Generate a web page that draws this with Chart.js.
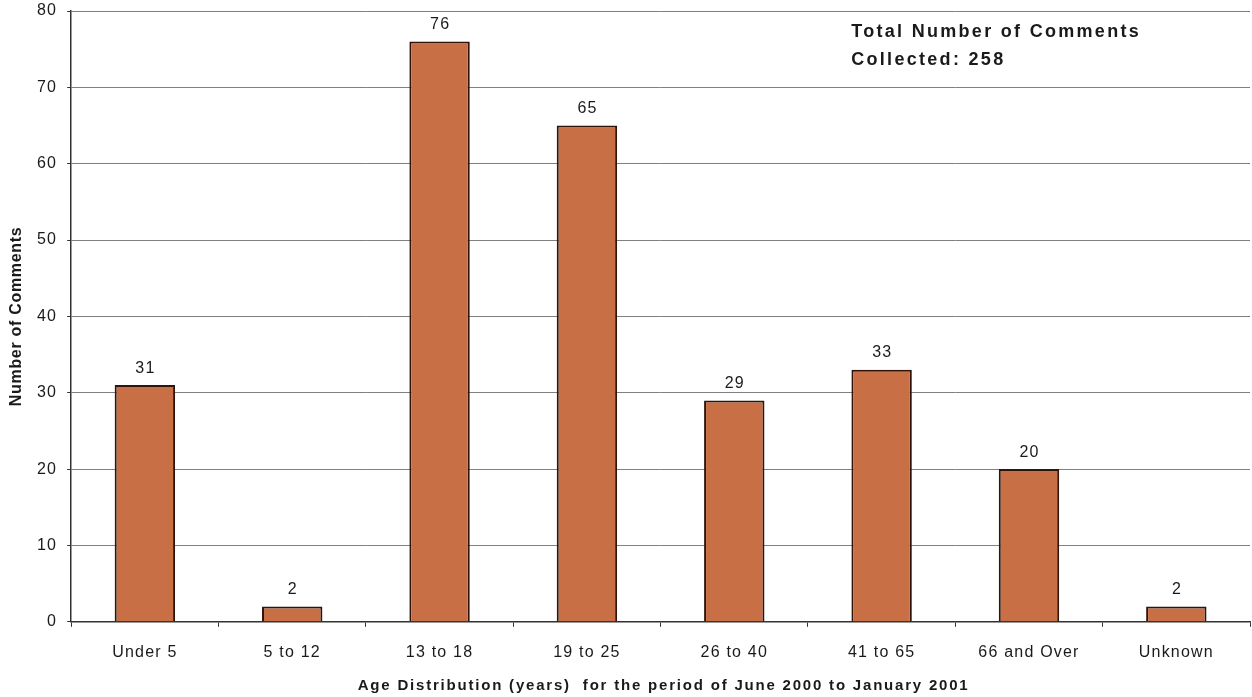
<!DOCTYPE html>
<html>
<head>
<meta charset="utf-8">
<script src="https://cdn.jsdelivr.net/npm/chart.js@4.4.1/dist/chart.umd.min.js"></script>
<style>
  html, body { margin: 0; padding: 0; background: #ffffff; }
  #wrap { width: 1252px; height: 697px; position: relative; }
</style>
</head>
<body>
<div id="wrap"><canvas id="c" width="1252" height="697"></canvas></div>
<script>
// Age groups and comment counts
const categories = ['Under 5', '5 to 12', '13 to 18', '19 to 25', '26 to 40', '41 to 65', '66 and Over', 'Unknown'];
const comments = [31, 2, 76, 65, 29, 33, 20, 2];
const yTicks = [0, 10, 20, 30, 40, 50, 60, 70, 80];
const noteLines = ['Total Number of Comments', 'Collected: 258'];
const xTitle = 'Age Distribution (years)  for the period of June 2000 to January 2001';
const yTitle = 'Number of Comments';

const FONT = '"Liberation Sans", Arial, sans-serif';
const TEXT = '#1a1a1a';

function spacing(ctx, px) {
  if ('letterSpacing' in ctx) ctx.letterSpacing = px + 'px';
}

// Slightly open letter spacing for the tick labels drawn by the scales
const tickSpacing = {
  id: 'tickSpacing',
  beforeLayout(chart) { spacing(chart.ctx, 1.2); },
  beforeDraw(chart) { spacing(chart.ctx, 1.2); }
};

// Writes each bar's count above it
const valueLabels = {
  id: 'valueLabels',
  afterDatasetsDraw(chart) {
    const ctx = chart.ctx;
    const meta = chart.getDatasetMeta(0);
    ctx.save();
    spacing(ctx, 1.2);
    ctx.fillStyle = TEXT;
    ctx.font = '16px ' + FONT;
    ctx.textAlign = 'center';
    ctx.textBaseline = 'bottom';
    meta.data.forEach((bar, i) => {
      ctx.fillText(String(comments[i]), bar.x + 0.6, bar.y - 9);
    });
    ctx.restore();
  }
};

// Axis titles and the total note
const annotations = {
  id: 'annotations',
  afterDraw(chart) {
    const ctx = chart.ctx;
    const area = chart.chartArea;
    ctx.save();
    ctx.fillStyle = TEXT;

    ctx.font = 'bold 18px ' + FONT;
    spacing(ctx, 2.3);
    ctx.textAlign = 'left';
    ctx.textBaseline = 'middle';
    const x = area.left + 780;
    ctx.fillText(noteLines[0], x, area.top + 21);
    ctx.fillText(noteLines[1], x, area.top + 49);

    ctx.font = 'bold 15px ' + FONT;
    spacing(ctx, 1.8);
    ctx.textAlign = 'center';
    ctx.fillText(xTitle, (area.left + area.right) / 2 + 3, 686);

    ctx.font = 'bold 16px ' + FONT;
    spacing(ctx, 0.7);
    ctx.translate(17, (area.top + area.bottom) / 2);
    ctx.rotate(-Math.PI / 2);
    ctx.fillText(yTitle, 0, 0);
    ctx.restore();
  }
};

new Chart(document.getElementById('c'), {
  type: 'bar',
  data: {
    labels: categories,
    datasets: [{
      data: comments,
      backgroundColor: '#c86f45',
      borderColor: '#2e140a',
      borderWidth: 2,
      borderSkipped: 'bottom',
      categoryPercentage: 1,
      barPercentage: 0.41
    }]
  },
  options: {
    responsive: false,
    animation: false,
    devicePixelRatio: 1,
    layout: { padding: { top: 11, right: 2, bottom: 19, left: 27 } },
    plugins: {
      legend: { display: false },
      tooltip: { enabled: false }
    },
    scales: {
      x: {
        offset: true,
        grid: {
          offset: true,
          drawOnChartArea: false,
          drawTicks: true,
          tickLength: 5,
          color: '#333333'
        },
        border: { display: true, color: '#333333', width: 1.5 },
        ticks: { color: TEXT, font: { family: FONT, size: 16 }, padding: 16 }
      },
      y: {
        min: 0,
        max: 80,
        afterBuildTicks(scale) { scale.ticks = yTicks.map(v => ({ value: v })); },
        // the outer padding alone sets the plot's top edge
        afterFit(scale) { scale.paddingTop = 0; scale.paddingBottom = 0; },
        grid: {
          color: '#808080',
          lineWidth: 1,
          drawTicks: true,
          tickLength: 4,
          tickColor: '#333333'
        },
        border: { display: true, color: '#333333', width: 1.5 },
        ticks: { color: TEXT, font: { family: FONT, size: 16 }, padding: 10 }
      }
    }
  },
  plugins: [tickSpacing, valueLabels, annotations]
});
</script>
</body>
</html>
